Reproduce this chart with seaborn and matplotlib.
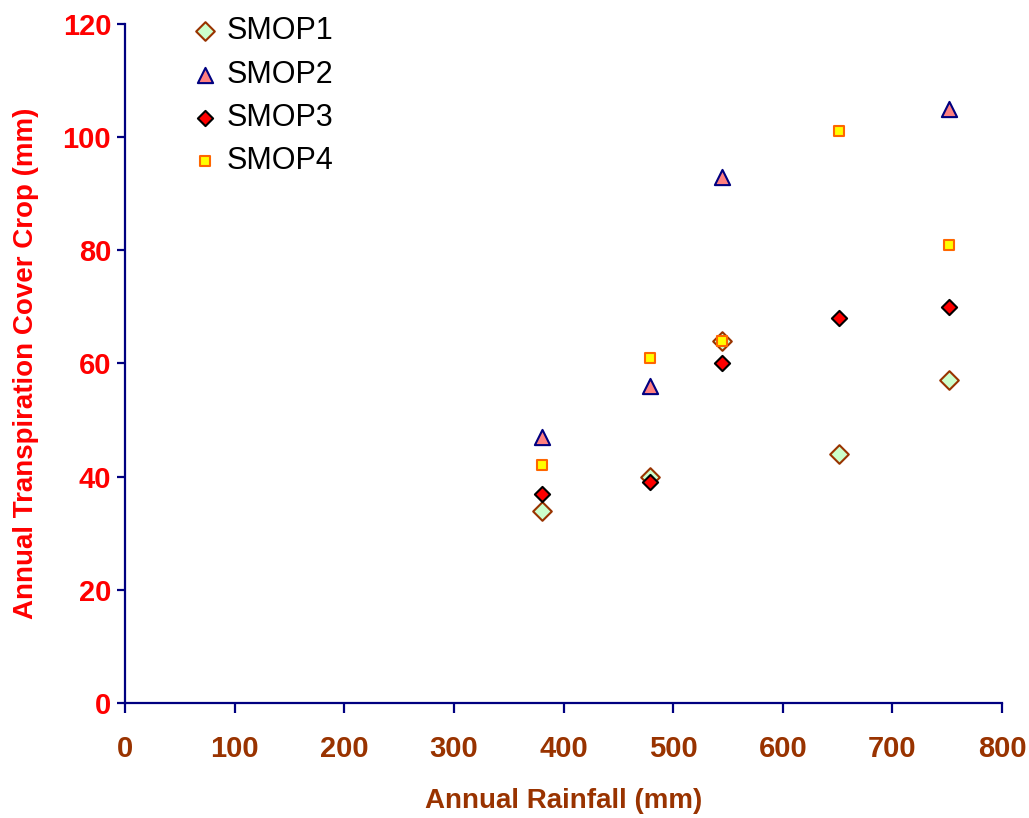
import numpy as np
import pandas as pd
import matplotlib
matplotlib.use("Agg")
import matplotlib.pyplot as plt
import seaborn as sns

# Data
rainfall = [380, 479, 545, 651, 752]
smop1 = [34, 40, 64, 44, 57]
smop2 = [47, 56, 93, np.nan, 105]
smop3 = [37, 39, 60, 68, 70]
smop4 = [42, 61, 64, 101, 81]

series_names = ["SMOP1", "SMOP2", "SMOP3", "SMOP4"]
series_values = [smop1, smop2, smop3, smop4]

sns.set_theme(style="white")
plt.rcParams['font.family'] = ['Liberation Sans', 'DejaVu Sans']

# Marker styles (fill, edge, marker, size)
styles = {
    "SMOP1": dict(marker="D", facecolor="#CCFFCC", edgecolor="#993300", s=90),
    "SMOP2": dict(marker="^", facecolor="#FF8080", edgecolor="#000080", s=120),
    "SMOP3": dict(marker="D", facecolor="#FF0000", edgecolor="#000000", s=60),
    "SMOP4": dict(marker="s", facecolor="#FFFF00", edgecolor="#FF6600", s=50),
}

fig = plt.figure(figsize=(10.29, 8.18), dpi=100)
ax = fig.add_axes([0.1215, 0.1406, 0.8523, 0.8301])

for name, vals in zip(series_names, series_values):
    df = pd.DataFrame({"x": rainfall, "y": vals}).dropna()
    st = styles[name]
    sns.scatterplot(data=df, x="x", y="y", ax=ax, marker=st["marker"], s=st["s"],
                    color=st["facecolor"], edgecolor=st["edgecolor"], linewidth=1.5,
                    label=name, zorder=3)

ax.set_xlim(0, 800)
ax.set_ylim(0, 120)
ax.set_xticks(range(0, 801, 100))
ax.set_yticks(range(0, 121, 20))

navy = "#000080"
for side in ["top", "right"]:
    ax.spines[side].set_visible(False)
for side in ["left", "bottom"]:
    ax.spines[side].set_color(navy)
    ax.spines[side].set_linewidth(1.6)

ax.tick_params(axis="x", bottom=True, direction="out", length=7, width=1.6, color=navy, pad=16,
               labelsize=21, labelcolor="#993300")
ax.tick_params(axis="y", left=True, direction="out", length=6, width=1.6, color=navy, pad=4,
               labelsize=21, labelcolor="#FF0000")
for lab in ax.get_xticklabels() + ax.get_yticklabels():
    lab.set_fontweight("bold")

ax.set_xlabel("Annual Rainfall (mm)", fontsize=20, fontweight="bold", color="#993300",
              labelpad=18)
ax.set_ylabel("Annual Transpiration Cover Crop (mm)", fontsize=20, fontweight="bold",
              color="#FF0000", labelpad=17)

leg = ax.legend(loc="upper left", bbox_to_anchor=(0.060, 1.029), frameon=False,
                fontsize=22, handlelength=1.0, handletextpad=0.2, labelspacing=0.43,
                borderaxespad=0)
for t in leg.get_texts():
    t.set_color("black")

fig.savefig("out.png", dpi=100)
